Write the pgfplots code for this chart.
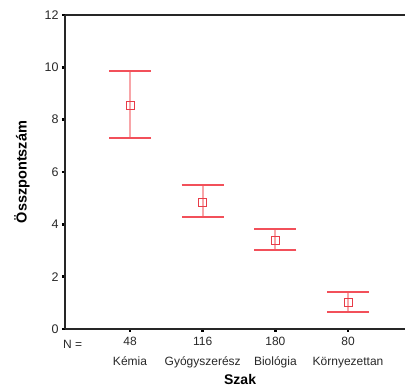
\documentclass[border=0pt]{standalone}
\usepackage{pgfplots}
\pgfplotsset{compat=1.18}
\usepackage{fontspec}
\setmainfont{Liberation Sans}
\usetikzlibrary{calc}
\definecolor{capred}{RGB}{242,80,90}
\definecolor{mkred}{RGB}{232,60,72}
\definecolor{whisk}{RGB}{248,165,168}
\definecolor{txt}{RGB}{40,40,40}
\begin{document}
\begin{tikzpicture}
\begin{axis}[name=ax,
  scale only axis, width=340pt, height=314pt,
  xmin=0.1055, xmax=4.784, ymin=0, ymax=12,
  axis x line=box, axis y line=left,
  axis line style={line width=1.5pt, black!85, -},
  xtick={1,2,3,4}, xtick pos=bottom,
  xticklabels={48\\Kémia,116\\Gyógyszerész,180\\Biológia,80\\Környezettan},
  xticklabel style={align=center, font=\fontsize{12}{20}\selectfont, text=txt, yshift=-1.5pt},
  ytick={0,2,4,6,8,10,12}, ytick pos=left,
  yticklabel style={font=\fontsize{12.5}{14}\selectfont, text=txt},
  tick align=outside, major tick length=3pt,
  tick style={black, line width=2.5pt},
  /pgf/number format/assume math mode=true,
  xlabel={\textbf{Szak}}, ylabel={\textbf{Összpontszám}},
  xlabel style={font=\fontsize{14}{14}\selectfont, at={(ticklabel cs:0.515)}, anchor=north, yshift=0.5pt},
  ylabel style={font=\fontsize{14.5}{14}\selectfont, yshift=8pt},
  clip=false,
]
\addplot[only marks, mark=square, mark size=4pt, mkred, line width=0.9pt,
  error bars/.cd, y dir=both, y explicit,
  error bar style={whisk, line width=2.2pt},
  error mark options={rotate=90, mark size=21pt, capred, line width=1.3pt}]
coordinates {
 (1,8.56) += (0,1.30) -= (0,1.26)
 (2,4.85) += (0,0.65) -= (0,0.57)
 (3,3.40) += (0,0.42) -= (0,0.38)
 (4,1.03) += (0,0.38) -= (0,0.38)
};
\addplot[only marks, mark=square, mark size=4pt, mkred, line width=0.9pt]
coordinates {(1,8.56) (2,4.85) (3,3.40) (4,1.03)};
\node[anchor=north west, font=\fontsize{12}{14}\selectfont, text=txt, inner sep=0pt] at ($(rel axis cs:0,0)+(-2pt,-11pt)$) {N =};
\end{axis}
\pgfresetboundingbox
\path ($(ax.south west)+(-65pt,-58pt)$) rectangle ($(ax.north east)+(0pt,15pt)$);
\end{tikzpicture}
\end{document}
